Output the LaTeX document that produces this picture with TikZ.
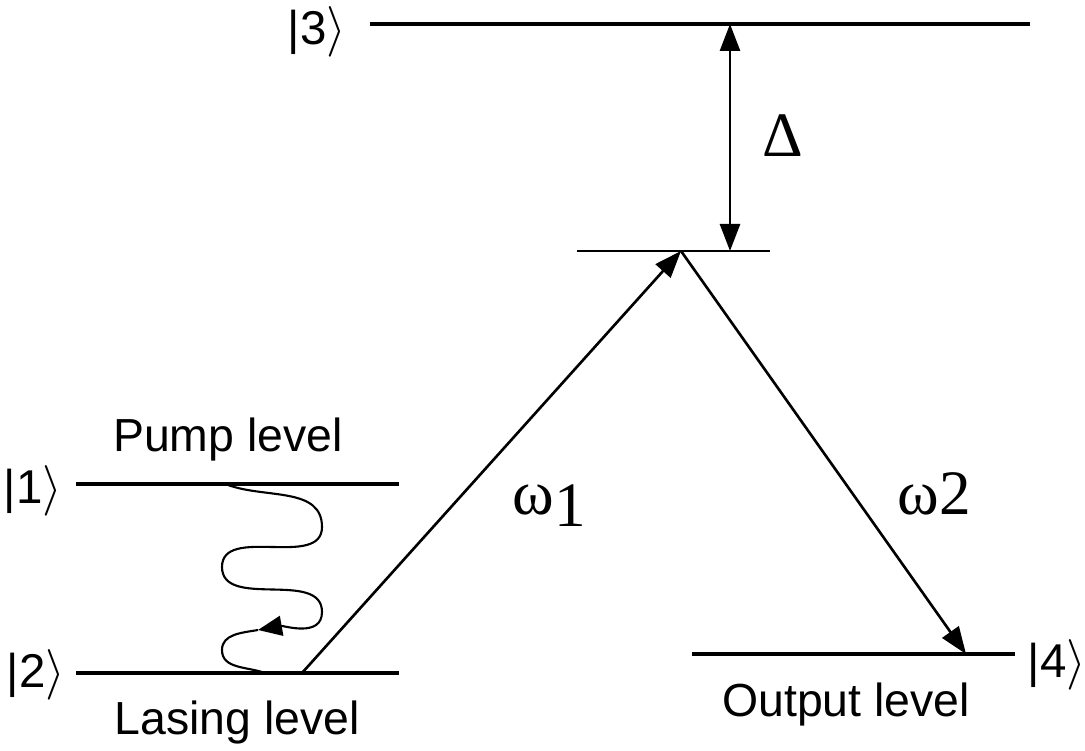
\documentclass[tikz,border=0pt]{standalone}
\usepackage{fontspec}
\setmainfont{Liberation Sans}
\newfontfamily\greekfont{Liberation Serif}
\usetikzlibrary{arrows.meta, positioning}

\begin{document}
\begin{tikzpicture}[
    level/.style={line width=0.9pt},
    virtual/.style={line width=0.4pt},
    trans/.style={-{Triangle[length=2.7mm,width=2mm]}, line width=0.75pt},
    gap/.style={{Triangle[length=2.7mm,width=2mm]}-{Triangle[length=2.7mm,width=2mm]}, line width=0.75pt},
    decay/.style={-{Triangle[length=2.4mm,width=2mm]}, line width=0.6pt},
    ket/.style={font=\fontsize{13.5}{16}\selectfont, inner sep=0pt},
    tag/.style={font=\fontsize{13.2}{16}\selectfont, inner sep=0pt, anchor=base},
    freq/.style={font=\greekfont\fontsize{18}{20}\selectfont, inner sep=0pt, anchor=base west},
]
\useasboundingbox (0,0) rectangle (10.85,7.51);

% level end points
\coordinate (l3a) at (3.70,7.27);
\coordinate (l3b) at (10.30,7.27);
\coordinate (va) at (5.77,5.00);
\coordinate (vb) at (7.70,5.00);
\coordinate (vtop) at (6.81,5.00);
\coordinate (l1a) at (0.76,2.67);
\coordinate (l1b) at (3.99,2.67);
\coordinate (l2a) at (0.76,0.78);
\coordinate (l2b) at (3.99,0.78);
\coordinate (l4a) at (6.92,0.97);
\coordinate (l4b) at (10.15,0.97);

\draw[level] (l3a) -- (l3b);
\draw[virtual] (va) -- (vb);
\draw[level] (l1a) -- (l1b);
\draw[level] (l2a) -- (l2b);
\draw[level] (l4a) -- (l4b);

% kets
\node[ket, left=0.23 of l3a, yshift=-0.8mm] (k3) {|3$\rangle$};
\node[ket, left=0.13 of l1a, yshift=-0.7mm] (k1) {|1$\rangle$};
\node[ket, left=0.10 of l2a, yshift=-0.2mm] (k2) {|2$\rangle$};
\node[ket, right=0.12 of l4b, yshift=-1.1mm] (k4) {|4$\rangle$};

% level names
\node[tag] (pump) at (2.28,2.99) {Pump level};
\node[tag] (lasing) at (2.37,0.16) {Lasing level};
\node[tag] (output) at (8.46,0.34) {Output level};

% detuning
\coordinate (d3) at (7.30,7.27);
\coordinate (dv) at (7.30,5.00);
\draw[gap] (d3) -- (dv);
\node[font=\greekfont\fontsize{18}{20}\selectfont, inner sep=0pt] (delta) at (7.83,6.15) {Δ};

% Raman transitions
\coordinate (w1start) at (3.02,0.78);
\coordinate (w2end) at (9.66,0.97);
\draw[trans] (w1start) -- (vtop);
\draw[trans] (vtop) -- (w2end);
\node[freq] (om1) at (5.12,2.36) {ω\raisebox{-1.2mm}{1}};
\node[freq] (om2) at (8.97,2.36) {ω2};

% relaxation 1 -> 2
\coordinate (r0) at (2.28,2.66);
\coordinate (r1) at (3.22,2.24);
\coordinate (r2) at (2.22,1.84);
\coordinate (r3) at (3.22,1.39);
\coordinate (rtip) at (2.58,1.21);
\coordinate (r4) at (2.22,1.01);
\coordinate (r5) at (2.65,0.78);
\draw[decay] (r0) to[out=-20,in=90] (r1) to[out=-90,in=90] (r2)
    to[out=-90,in=90] (r3) to[out=-90,in=10] (rtip);
\draw[line width=0.6pt] (rtip) to[out=190,in=90] (r4) to[out=-90,in=160] (r5);

\end{tikzpicture}
\end{document}
